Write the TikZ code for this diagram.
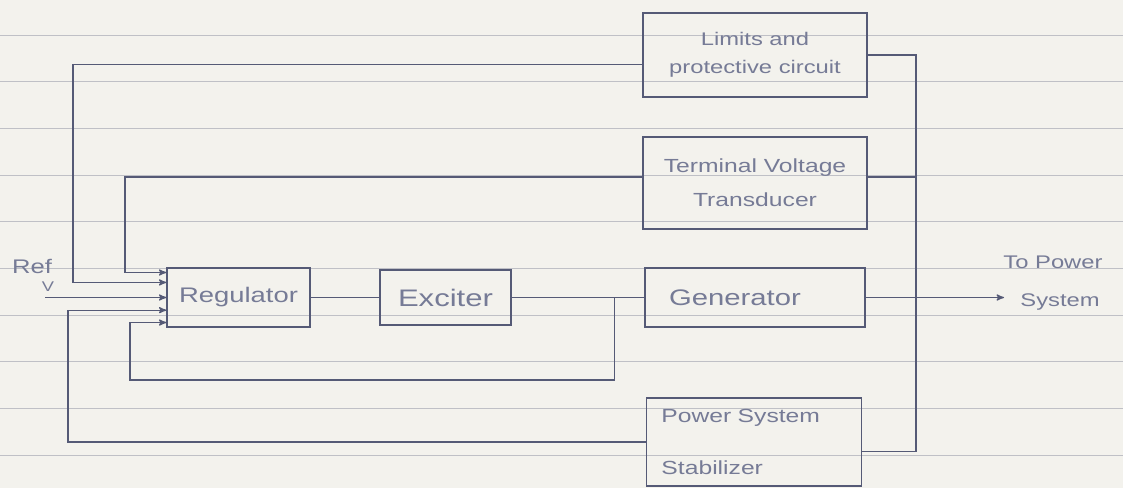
\documentclass[tikz,border=0pt]{standalone}
\usepackage{fontspec}
\setmainfont{Liberation Sans}
\newfontfamily\hand[FakeStretch=1.3]{Liberation Sans}
\usetikzlibrary{arrows,calc}
\definecolor{pen}{HTML}{555A76}
\definecolor{ink}{HTML}{767B96}
\definecolor{ruling}{HTML}{BFC0C6}
\definecolor{paper}{HTML}{F3F2ED}
\tikzset{
  block/.style={draw=pen,line width=0.9pt,rectangle,inner sep=2pt,align=center,text=ink},
  wire/.style={draw=pen,line width=0.9pt},
  feed/.style={draw=pen,line width=0.9pt,->,>=stealth'},
  label/.style={text=ink,inner sep=1pt}
}
\begin{document}
\begin{tikzpicture}[x=0.025cm,y=-0.025cm]
\fill[paper] (0,0) rectangle (1123,488);
\useasboundingbox (0,0) rectangle (1123,488);
% ruled paper
\foreach \yy in {35,81,128,175,221,268,315,361,408,455}
  \draw[ruling,line width=0.6pt] (0,\yy)--(1123,\yy);
% blocks
\node[block,minimum width=3.575cm,minimum height=1.475cm,font=\hand\fontsize{15}{18}\selectfont] (reg) at (238.5,297.5) {Regulator};
\node[block,minimum width=3.275cm,minimum height=1.375cm,font=\hand\fontsize{17}{18}\selectfont] (exc) at (445.5,297.5) {Exciter};
\node[block,minimum width=5.5cm,minimum height=1.475cm,font=\hand\fontsize{16}{18}\selectfont] (gen) at (755,297.5) {\hspace{-1cm}Generator};
\node[block,minimum width=5.6cm,minimum height=2.1cm,font=\hand\fontsize{13}{20}\selectfont] (lim) at (755,55) {Limits and\hspace{1cm}\\protective circuit};
\node[block,minimum width=5.6cm,minimum height=2.3cm,font=\hand\fontsize{13.5}{24}\selectfont] (tvt) at (755,183) {Terminal Voltage\\Transducer};
\node[block,align=left,text width=4.625cm,inner xsep=0.375cm,minimum height=2.2cm,font=\hand\fontsize{13.5}{37}\selectfont] (pss) at (754,442) {Power System\\Stabilizer};
% labels
\node[label,font=\hand\fontsize{14}{17}\selectfont] (ref) at (32,266) {Ref};
\node[label,font=\hand\fontsize{10}{12}\selectfont] (refv) at (48,287) {V};
\node[label,font=\hand\fontsize{13}{16}\selectfont] (topow) at (1053,262) {To Power};
\node[label,font=\hand\fontsize{13}{16}\selectfont] (sys) at (1060,302) {System};
% helper points
\coordinate (in1) at ($(reg.north west)!0.085!(reg.south west)$);
\coordinate (in2) at ($(reg.north west)!0.25!(reg.south west)$);
\coordinate (in3) at ($(reg.north west)!0.5!(reg.south west)$);
\coordinate (in4) at ($(reg.north west)!0.71!(reg.south west)$);
\coordinate (in5) at ($(reg.north west)!0.915!(reg.south west)$);
\coordinate (xref) at (45,0);
\coordinate (xpss) at (68,0);
\coordinate (xlim) at (73,0);
\coordinate (xtvt) at (125,0);
\coordinate (xexc) at (130,0);
\coordinate (yexc) at (0,380);
\coordinate (bus) at (916,0);
\coordinate (out) at (1004,0);
% forward path
\draw[wire] (reg.east) -- (reg.east -| exc.west);
\draw[wire] (exc.east) -- (exc.east -| gen.west) coordinate[pos=0.776] (tap);
\draw[feed] (gen.east) -- (gen.east -| out);
% sensing bus
\draw[wire] (lim.east) -- (lim.east -| bus) -- (bus |- pss.-5) -- (pss.-5);
\draw[wire] (tvt.3) -- (tvt.3 -| bus);
% feedback to regulator
\draw[feed] (xref |- in3) -- (in3);
\draw[feed] (lim.185) -- (lim.185 -| xlim) |- (in2);
\draw[feed] (tvt.177) -- (tvt.177 -| xtvt) |- (in1);
\draw[feed] (pss.west) -- (pss.west -| xpss) |- (in4);
\draw[feed] (tap) |- (xexc |- yexc) |- (in5);
\end{tikzpicture}
\end{document}
